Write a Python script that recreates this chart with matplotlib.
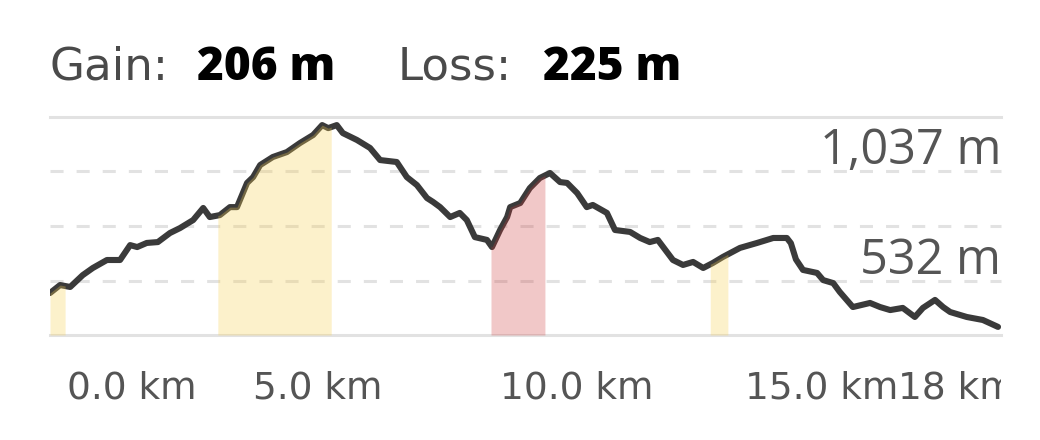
import numpy as np
import matplotlib
matplotlib.use("Agg")
import matplotlib.pyplot as plt
from matplotlib import transforms as mtransforms

# ---------------- data ----------------
distance_km = [
    0.00, 0.20, 0.40, 0.65, 0.85, 1.13, 1.39, 1.59, 1.73, 1.92,
    2.14, 2.38, 2.58, 2.84, 3.04, 3.17, 3.37, 3.57, 3.71, 3.91,
    4.03, 4.17, 4.42, 4.70, 4.96, 5.22, 5.40, 5.52, 5.69, 5.81,
    6.09, 6.35, 6.55, 6.88, 7.08, 7.28, 7.48, 7.60, 7.74, 7.94,
    8.13, 8.27, 8.43, 8.67, 8.77, 8.93, 9.07, 9.13, 9.33, 9.52,
    9.72, 9.92, 10.12, 10.26, 10.46, 10.65, 10.77, 11.05, 11.21, 11.51,
    11.71, 11.90, 12.06, 12.36, 12.56, 12.76, 12.96, 13.15, 13.35, 13.69,
    14.03, 14.35, 14.62, 14.70, 14.80, 14.94, 15.22, 15.34, 15.54, 15.67,
    15.93, 16.27, 16.47, 16.67, 16.92, 17.16, 17.32, 17.56, 17.72, 17.86,
    18.19, 18.51, 18.81,
]
elevation_m = [
    474, 511, 502, 557, 590, 627, 627, 696, 687, 706,
    710, 752, 775, 812, 868, 826, 835, 872, 872, 984,
    1011, 1067, 1104, 1127, 1169, 1206, 1252, 1238, 1252, 1215,
    1183, 1146, 1090, 1081, 1011, 974, 914, 896, 872, 826,
    845, 812, 733, 720, 687, 766, 826, 872, 891, 960,
    1007, 1030, 988, 984, 937, 872, 882, 845, 766, 757,
    729, 710, 720, 627, 604, 618, 590, 613, 641, 683,
    706, 729, 729, 705, 630, 581, 567, 534, 520, 479,
    409, 428, 409, 395, 405, 363, 405, 442, 409, 386,
    363, 349, 317,
]
gain_m = 206
loss_m = 225
grid_levels_m = [279.5, 532, 784.5, 1037, 1289.5]
labelled_levels_m = [1037, 532]
tick_km = [0, 5, 10, 15, 18]
tick_labels = ["0.0 km", "5.0 km", "10.0 km", "15.0 km", "18 km"]
climb_segments_km = [(0.0, 0.30), (3.33, 5.58), (13.10, 13.45)]
steep_segments_km = [(8.75, 9.82)]

# ---------------- figure ----------------
W, H, DPI = 1040, 440, 100
fig = plt.figure(figsize=(W / DPI, H / DPI), dpi=DPI)
fig.patch.set_facecolor("white")
ax = fig.add_axes([50 / W, 105 / H, 951 / W, 218 / H])
ax.set_xlim(0, 951 / 50.4)
ax.set_ylim(grid_levels_m[0], grid_levels_m[-1])
ax.axis("off")

plt.rcParams["lines.scale_dashes"] = False
grid_color = "#e2e2e2"
for i, lvl in enumerate(grid_levels_m):
    if i in (0, len(grid_levels_m) - 1):
        ax.axhline(lvl, color=grid_color, lw=2.2, zorder=0, clip_on=False)
    else:
        ax.axhline(lvl, color=grid_color, lw=2.2, zorder=0, clip_on=False,
                   linestyle=(0, (9.4, 9.4)))

x = np.asarray(distance_km)
y = np.asarray(elevation_m)
ax.plot(x, y, color="#3a3a3a", lw=4.4, solid_joinstyle="round",
        solid_capstyle="round", zorder=2)


def shade(segs, color, alpha):
    for a, b in segs:
        inner = x[(x > a) & (x < b)]
        xs = np.concatenate([[a], inner, [b]])
        ys = np.interp(xs, x, y)
        ax.fill_between(xs, grid_levels_m[0], ys, color=color, alpha=alpha,
                        lw=0, zorder=3)


shade(climb_segments_km, "#f7d155", 0.30)
shade(steep_segments_km, "#cd3c3c", 0.28)

# y labels
ytrans = mtransforms.blended_transform_factory(ax.transAxes, ax.transData)
for lvl in labelled_levels_m:
    off = mtransforms.ScaledTranslation(0, 7 / DPI, fig.dpi_scale_trans)
    ax.text(1.0, lvl, f"{lvl:,} m", transform=ytrans + off, ha="right",
            va="baseline", fontsize=35, color="#555555", family="Open Sans")

# x labels
xtrans = mtransforms.blended_transform_factory(ax.transData, fig.transFigure)
label_offsets_px = [17, 16, 23, 16, 0]
clip = mtransforms.TransformedBbox(
    mtransforms.Bbox([[0, 0], [1001 / W, 1]]), fig.transFigure)
for i, (km, lab) in enumerate(zip(tick_km, tick_labels)):
    off = mtransforms.ScaledTranslation(label_offsets_px[i] / DPI, 0,
                                        fig.dpi_scale_trans)
    t = ax.text(km, 42 / H, lab, transform=xtrans + off,
                ha="left" if i == 0 else "center", va="baseline",
                fontsize=27, color="#555555", family="DejaVu Sans",
                clip_on=True)
    t.set_clip_box(clip)

# header
base = (H - 80) / H
fig.text(50 / W, base, "Gain:", fontsize=32.5, color="#4a4a4a",
         family="DejaVu Sans", va="baseline")
fig.text(197 / W, base, f"{gain_m} m", fontsize=33, color="black",
         family="Open Sans", weight="heavy", va="baseline")
fig.text(398 / W, base, "Loss:", fontsize=32.5, color="#4a4a4a",
         family="DejaVu Sans", va="baseline")
fig.text(543 / W, base, f"{loss_m} m", fontsize=33, color="black",
         family="Open Sans", weight="heavy", va="baseline")

fig.savefig("out.png", dpi=DPI, facecolor="white")
